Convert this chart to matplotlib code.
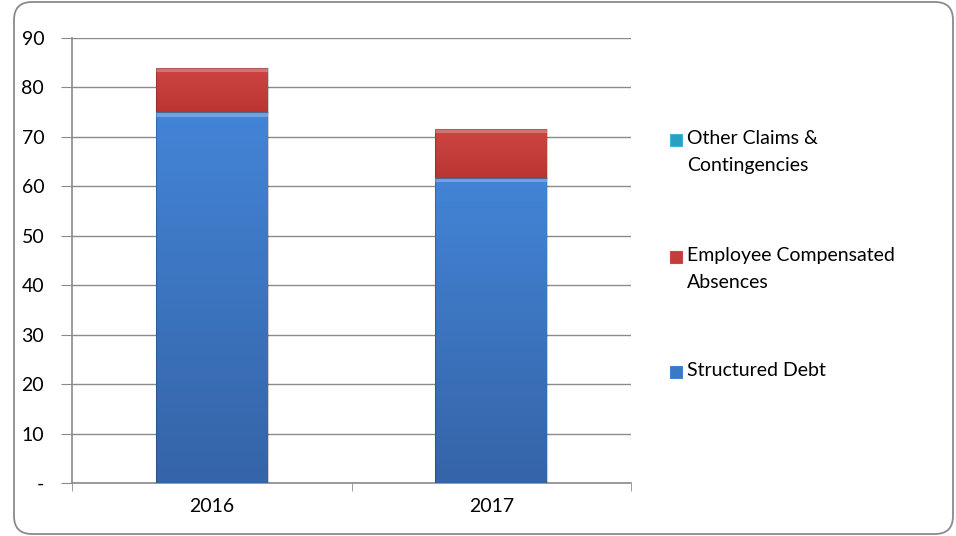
import matplotlib
matplotlib.use("Agg")
import matplotlib.pyplot as plt
import numpy as np
from matplotlib.patches import FancyBboxPatch, Rectangle
from matplotlib.transforms import IdentityTransform
from matplotlib.colors import LinearSegmentedColormap

plt.rcParams['font.family'] = ['Lato', 'DejaVu Sans']

years = ["2016", "2017"]
structured_debt = [75.0, 61.7]
employee_absences = [9.0, 9.9]
other_claims = [0.0, 0.0]
series_names = ["Structured Debt", "Employee Compensated\nAbsences", "Other Claims &\nContingencies"]
series_colors = ["#3b78c6", "#c53d3a", "#2aa0c0"]
grad_top = ["#4384d6", "#cc4542", "#3ab8d8"]
grad_bot = ["#3564a8", "#bb3633", "#1f7e98"]
yticks = [0, 10, 20, 30, 40, 50, 60, 70, 80, 90]
ytick_labels = ["-"] + [str(v) for v in yticks[1:]]

W, H = 956, 536
FS = 14
fig = plt.figure(figsize=(W / 100, H / 100), dpi=100)
fig.patch.set_facecolor("white")

# rounded chart-area border (pixel coords)
fig.patches.append(FancyBboxPatch((14, 2), 939, 532, boxstyle="round,pad=0,rounding_size=18",
                                  transform=IdentityTransform(), facecolor="none",
                                  edgecolor="#8a8a8a", linewidth=1.3, figure=fig))

ax = fig.add_axes([72 / W, (H - 483) / H, (631 - 72) / W, (483 - 38) / H])
x = np.arange(len(years))
bottom = np.zeros(len(years))
all_series = [structured_debt, employee_absences, other_claims]
for vals, name, col, gt, gb in zip(all_series, series_names, series_colors, grad_top, grad_bot):
    bars = ax.bar(x, vals, 0.4, bottom=bottom, color=col, edgecolor="none", label=name, zorder=3)
    cmap = LinearSegmentedColormap.from_list("g", [gb, gt])
    for p in bars.patches:
        if p.get_height() <= 0:
            continue
        x0, y0, w, h = p.get_x(), p.get_y(), p.get_width(), p.get_height()
        grad = np.linspace(0, 1, 64).reshape(-1, 1)
        im = ax.imshow(grad, cmap=cmap, origin="lower", aspect="auto",
                       extent=[x0, x0 + w, y0, y0 + h], zorder=3.1)
        im.set_clip_path(p)
        # bevel highlight at top edge
        ax.add_patch(Rectangle((x0, y0 + h - 0.9), w, 0.9, facecolor="white", alpha=0.25,
                               edgecolor="none", zorder=3.2))
        ax.add_patch(Rectangle((x0, y0), w, h, facecolor="none", edgecolor="#00000030",
                               linewidth=0.8, zorder=3.3))
    bottom = bottom + np.array(vals)

ax.set_xlim(-0.5, len(years) - 0.5)
ax.set_ylim(0, 90)
ax.set_yticks(yticks)
ax.set_yticklabels(ytick_labels, fontsize=FS)
ax.set_xticks(x)
ax.set_xticklabels(years, fontsize=FS)
ax.set_xticks(np.arange(len(years) + 1) - 0.5, minor=True)
ax.tick_params(axis="x", which="major", length=0, pad=11)
ax.tick_params(axis="x", which="minor", length=6, color="#8a8a8a", direction="out")
ax.tick_params(axis="y", length=8, color="#8a8a8a", direction="out", pad=12)
ax.yaxis.grid(True, color="#8a8a8a", linewidth=1, zorder=0)
ax.set_axisbelow(True)
for s in ["top", "right"]:
    ax.spines[s].set_visible(False)
for s in ["left", "bottom"]:
    ax.spines[s].set_color("#8a8a8a")
    ax.spines[s].set_linewidth(1.2)

# legend (reversed order, top to bottom)
leg_y = [140, 257, 372]
for name, col, gt, ly in zip(series_names[::-1], series_colors[::-1], grad_top[::-1], leg_y):
    fig.patches.append(Rectangle((670, H - ly - 6), 12, 12, transform=IdentityTransform(),
                                 facecolor=col, edgecolor=gt, linewidth=0.8, figure=fig))
    fig.text(687 / W, (H - ly + 10) / H, name, fontsize=FS, va="top", ha="left",
             linespacing=1.7)

fig.savefig("out.png", dpi=100)
